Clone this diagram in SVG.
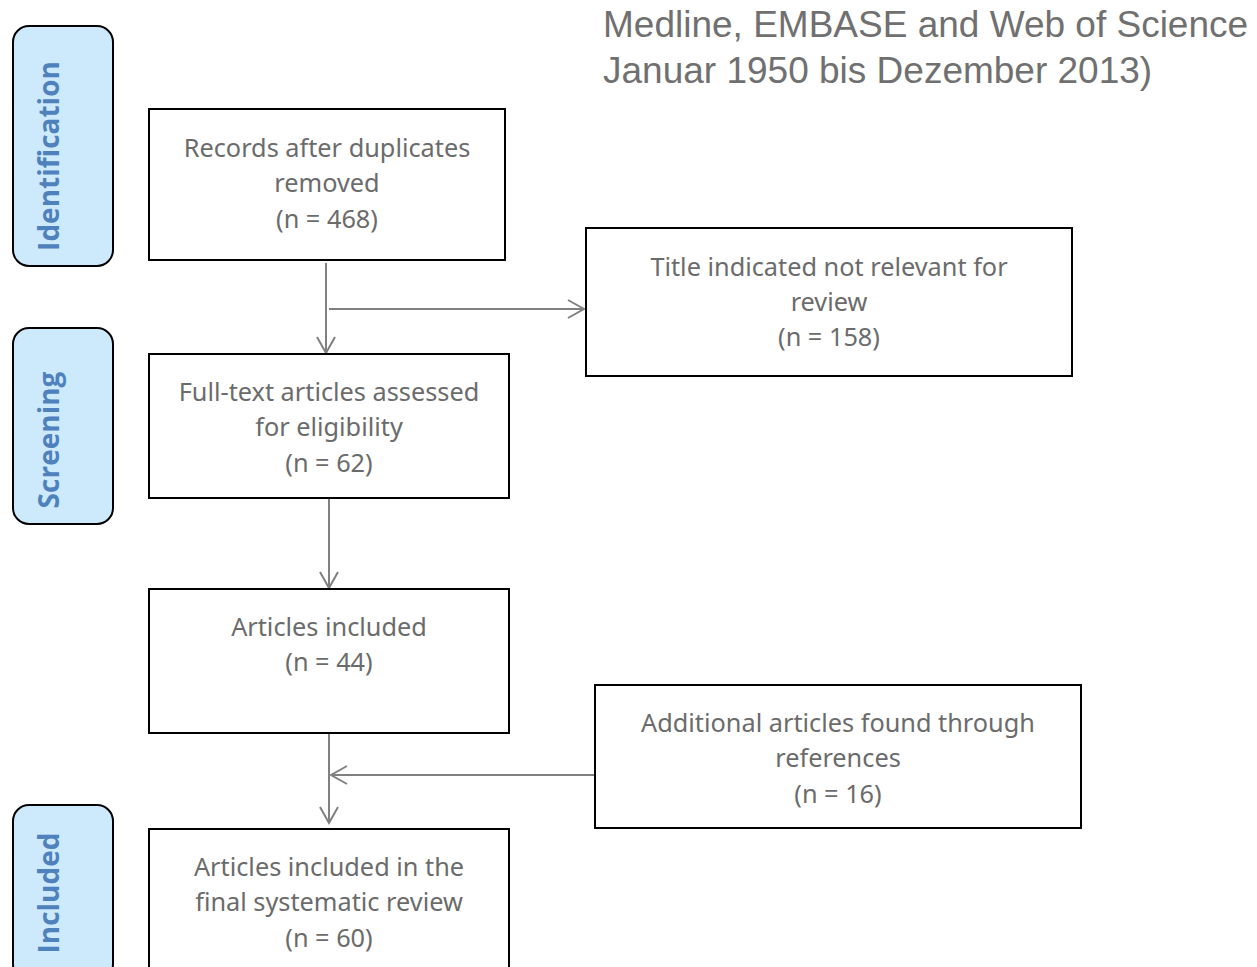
<svg xmlns="http://www.w3.org/2000/svg" width="1257" height="967" viewBox="0 0 1257 967">
<style>
.tab{fill:#cdeafc;stroke:#000;stroke-width:2}
.tabt{font-family:"Open Sans","Noto Sans",sans-serif;font-weight:bold;font-size:28px;fill:#4f81bd;text-anchor:middle}
.box{fill:#fff;stroke:#000;stroke-width:2}
.bt{font-family:"Noto Sans","Open Sans",sans-serif;font-size:25.3px;fill:#6b6b6b;text-anchor:middle}
.title{font-family:"Liberation Sans",Arial,sans-serif;font-size:37px;fill:#707070}
.con{fill:none;stroke:#808080;stroke-width:2}
</style>
<defs>
<marker id="arr" viewBox="0 0 20 20" refX="18" refY="10" markerWidth="20" markerHeight="20" orient="auto" markerUnits="userSpaceOnUse">
<path d="M2,1 L18,10 L2,19" fill="none" stroke="#808080" stroke-width="2"/>
</marker>
</defs>
<rect width="1257" height="967" fill="#fff"/>
<g id="title">
<text class="title" x="603" y="37">Medline, EMBASE and Web of Science</text>
<text class="title" x="603" y="83">Januar 1950 bis Dezember 2013)</text>
</g>
<g id="tab-identification">
<rect class="tab" x="13" y="26" width="100" height="240" rx="16"/>
<text class="tabt" transform="translate(59,156) rotate(-90)">Identification</text>
</g>
<g id="tab-screening">
<rect class="tab" x="13" y="328" width="100" height="196" rx="16"/>
<text class="tabt" transform="translate(59,440) rotate(-90)">Screening</text>
</g>
<g id="tab-included">
<rect class="tab" x="13" y="805" width="100" height="175" rx="16"/>
<text class="tabt" transform="translate(59,893) rotate(-90)">Included</text>
</g>
<g id="connectors">
<line class="con" x1="326" y1="263" x2="326" y2="353" marker-end="url(#arr)"/>
<line class="con" x1="329" y1="309" x2="584" y2="309" marker-end="url(#arr)"/>
<line class="con" x1="329" y1="498" x2="329" y2="588" marker-end="url(#arr)"/>
<line class="con" x1="329" y1="733" x2="329" y2="823" marker-end="url(#arr)"/>
<line class="con" x1="595" y1="775" x2="331" y2="775" marker-end="url(#arr)"/>
</g>
<g id="records">
<rect class="box" x="149" y="109" width="356" height="151"/>
<text class="bt" x="327" y="157">Records after duplicates</text>
<text class="bt" x="327" y="192">removed</text>
<text class="bt" x="327" y="228">(n = 468)</text>
</g>
<g id="title-excluded">
<rect class="box" x="586" y="228" width="486" height="148"/>
<text class="bt" x="829" y="276">Title indicated not relevant for</text>
<text class="bt" x="829" y="311">review</text>
<text class="bt" x="829" y="346">(n = 158)</text>
</g>
<g id="fulltext">
<rect class="box" x="149" y="354" width="360" height="144"/>
<text class="bt" x="329" y="401">Full-text articles assessed</text>
<text class="bt" x="329" y="436">for eligibility</text>
<text class="bt" x="329" y="472">(n = 62)</text>
</g>
<g id="included">
<rect class="box" x="149" y="589" width="360" height="144"/>
<text class="bt" x="329" y="636">Articles included</text>
<text class="bt" x="329" y="671">(n = 44)</text>
</g>
<g id="additional">
<rect class="box" x="595" y="685" width="486" height="143"/>
<text class="bt" x="838" y="732">Additional articles found through</text>
<text class="bt" x="838" y="767">references</text>
<text class="bt" x="838" y="803">(n = 16)</text>
</g>
<g id="final">
<rect class="box" x="149" y="829" width="360" height="145"/>
<text class="bt" x="329" y="876">Articles included in the</text>
<text class="bt" x="329" y="911">final systematic review</text>
<text class="bt" x="329" y="947">(n = 60)</text>
</g>
</svg>
